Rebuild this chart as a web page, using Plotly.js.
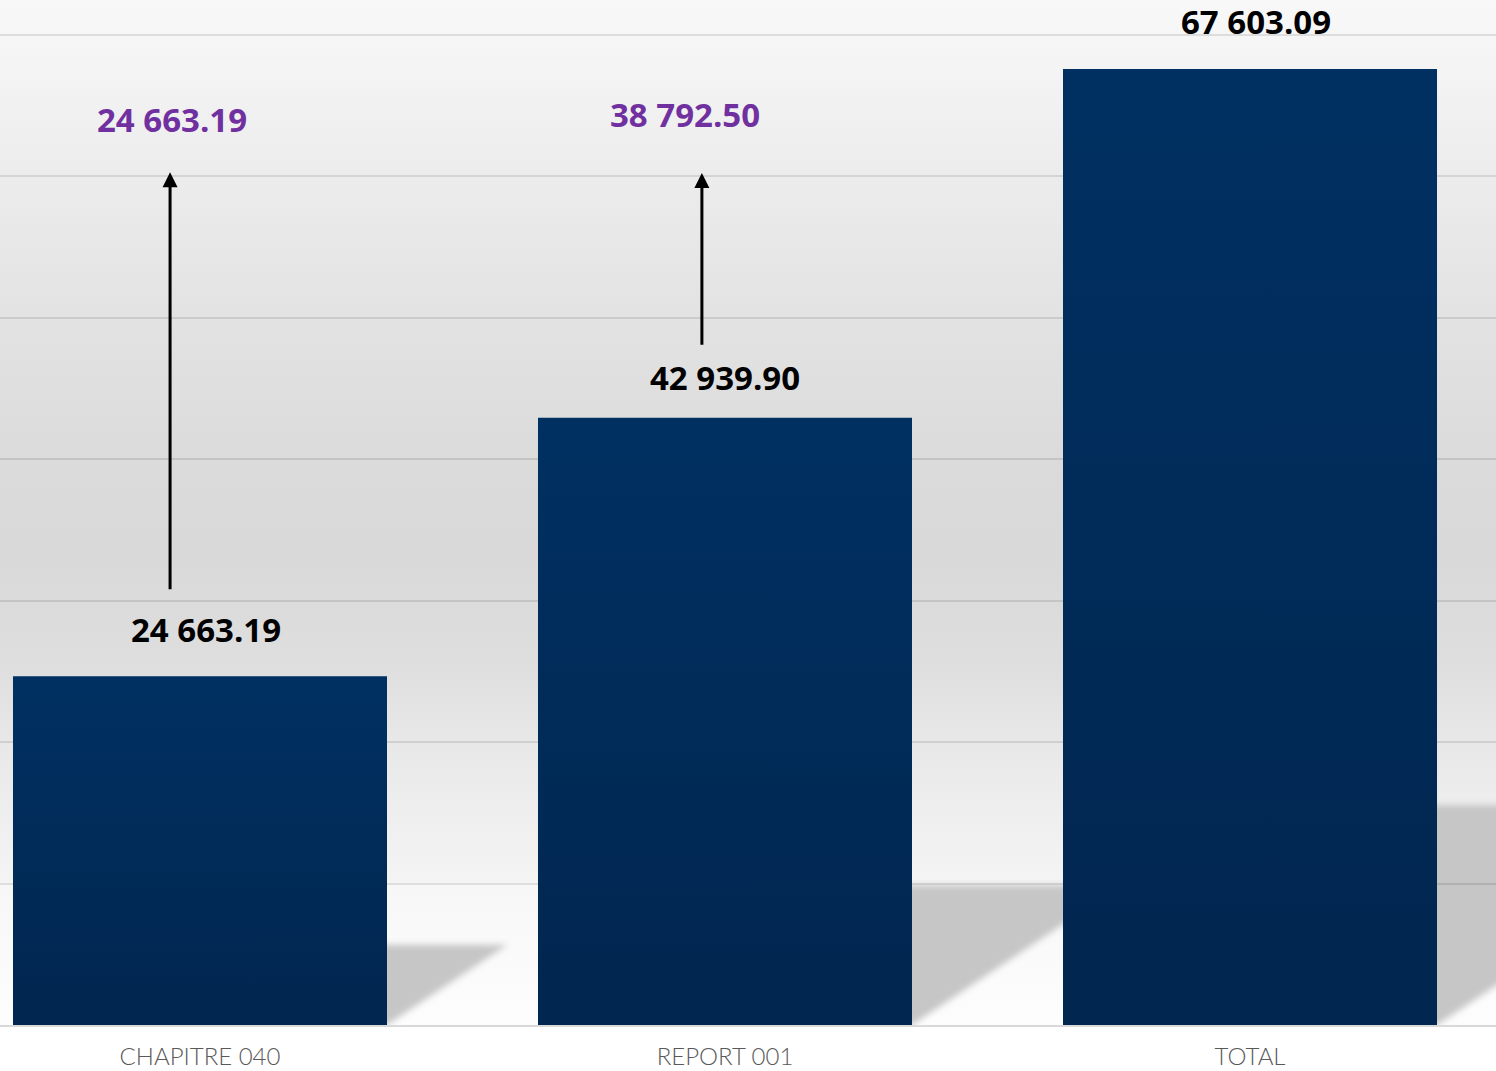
<!DOCTYPE html>
<html><head><meta charset="utf-8">
<script src="https://cdn.plot.ly/plotly-3.0.1.min.js"></script>
<style>html,body{margin:0;padding:0;background:#fff;}#chart{width:1496px;height:1071px;}</style>
</head><body><div id="chart"></div>
<script>
// ---- data ----
const categories = ['CHAPITRE 040', 'REPORT 001', 'TOTAL'];
const barValues = [24663.19, 42939.90, 67603.09];
const arrowLabels = [24663.19, 38792.50];

function fmt(v) {
  const parts = v.toFixed(2).split('.');
  return parts[0].replace(/\B(?=(\d{3})+(?!\d))/g, ' ') + '.' + parts[1];
}

const xIdx = categories.map((c, i) => i);

// ---- layout config (positions / styles) ----
const labelShift = [47, 40, 47];
const labelXShift = [6, 0, 6];
const arrowCfg = [
  {x: -0.057, tail: 30700, tip: 60300, lx: -0.053, ly: 64000},
  {x: 0.956, tail: 48000, tip: 60250, lx: 0.924, ly: 64350}
];

const annotations = [];
barValues.forEach((v, i) => {
  annotations.push({
    x: xIdx[i], y: v, xref: 'x', yref: 'y', text: fmt(v), showarrow: false,
    yanchor: 'middle', xanchor: 'center', yshift: labelShift[i], xshift: labelXShift[i],
    font: {family: 'Open Sans', size: 33, color: '#000000', weight: 700}
  });
});
arrowLabels.forEach((v, i) => {
  const a = arrowCfg[i];
  annotations.push({
    x: a.x, y: a.tip, ax: a.x, ay: a.tail, xref: 'x', yref: 'y', axref: 'x', ayref: 'y',
    text: '', showarrow: true, arrowhead: 2, arrowsize: 1, arrowwidth: 3,
    arrowcolor: '#000000', standoff: 0, startstandoff: 0
  });
  annotations.push({
    x: a.lx, y: a.ly, xref: 'x', yref: 'y', text: fmt(v), showarrow: false,
    yanchor: 'middle', xanchor: 'center',
    font: {family: 'Open Sans', size: 33, color: '#7030a0', weight: 700}
  });
});

const trace = {
  type: 'bar', x: xIdx, y: barValues, width: 0.7124,
  marker: {color: '#012b5a', line: {width: 0}},
  hoverinfo: 'none'
};

const layout = {
  width: 1496, height: 1071,
  margin: {l: 0, r: 0, t: 0, b: 46, pad: 0},
  paper_bgcolor: '#ffffff', plot_bgcolor: 'rgba(0,0,0,0)',
  showlegend: false,
  xaxis: {
    range: [-0.38095, 2.46857], tickvals: xIdx, ticktext: categories,
    showgrid: false, zeroline: false, showline: true, linecolor: '#d9d9d9', linewidth: 2,
    ticks: '', ticklabelstandoff: 9,
    tickfont: {family: 'Lato', size: 24, color: '#595959', weight: 300}
  },
  yaxis: {
    range: [0, 72475], tick0: 0, dtick: 10000, showticklabels: false,
    showgrid: true, gridcolor: 'rgba(0,0,0,0.10)', gridwidth: 2, zeroline: false
  },
  annotations: annotations
};

const gd = document.getElementById('chart');

function buildBackground() {
  const xa = gd._fullLayout.xaxis, ya = gd._fullLayout.yaxis;
  const W = Math.round(xa._length), H = Math.round(ya._length);
  const cv = document.createElement('canvas');
  cv.width = W; cv.height = H;
  const ctx = cv.getContext('2d');
  const floorY = ya.l2p(10000);
  const g = ctx.createLinearGradient(0, 0, 0, floorY);
  g.addColorStop(0.00, '#f8f8f8');
  g.addColorStop(0.04, '#f6f6f6');
  g.addColorStop(0.20, '#ececec');
  g.addColorStop(0.35, '#e3e3e3');
  g.addColorStop(0.52, '#dbdbdb');
  g.addColorStop(0.63, '#d9d9d9');
  g.addColorStop(0.75, '#dedede');
  g.addColorStop(0.84, '#e8e8e8');
  g.addColorStop(0.93, '#efefef');
  g.addColorStop(1.00, '#f4f4f4');
  ctx.fillStyle = g;
  ctx.fillRect(0, 0, W, floorY);
  const g2 = ctx.createLinearGradient(0, floorY, 0, H);
  g2.addColorStop(0, '#f7f7f7');
  g2.addColorStop(1, '#fdfdfd');
  ctx.fillStyle = g2;
  ctx.fillRect(0, floorY, W, H - floorY);
  // floor shadows, derived from bar values via the axes
  ctx.filter = 'blur(3px)';
  ctx.fillStyle = '#c6c6c6';
  const yb = ya.l2p(0);
  barValues.forEach((v, i) => {
    const xr = xa.l2p(xIdx[i] + trace.width / 2);
    const hPx = yb - ya.l2p(v);
    const s = 0.23 * hPx;
    ctx.beginPath();
    ctx.moveTo(xr - 25, yb - s);
    ctx.lineTo(xr + 1.5 * s, yb - s);
    ctx.lineTo(xr, yb);
    ctx.lineTo(xr - 25, yb + 6);
    ctx.closePath();
    ctx.fill();
  });
  ctx.filter = 'none';
  return cv.toDataURL('image/png');
}

function applyBarGradient() {
  const svg = gd.querySelector('svg.main-svg');
  if (!svg) return;
  let defs = svg.querySelector('defs');
  const ns = 'http://www.w3.org/2000/svg';
  if (!defs) { defs = document.createElementNS(ns, 'defs'); svg.insertBefore(defs, svg.firstChild); }
  if (!svg.querySelector('#barGrad')) {
    const lg = document.createElementNS(ns, 'linearGradient');
    lg.setAttribute('id', 'barGrad');
    lg.setAttribute('x1', '0'); lg.setAttribute('y1', '0');
    lg.setAttribute('x2', '0'); lg.setAttribute('y2', '1');
    [['0', '#003062'], ['1', '#01264f']].forEach(([o, c]) => {
      const st = document.createElementNS(ns, 'stop');
      st.setAttribute('offset', o); st.setAttribute('stop-color', c);
      lg.appendChild(st);
    });
    defs.appendChild(lg);
  }
  gd.querySelectorAll('.bars .point path').forEach(p => { p.style.fill = 'url(#barGrad)'; });
}

Plotly.newPlot(gd, [trace], layout, {displayModeBar: false, staticPlot: true}).then(() => {
  const src = buildBackground();
  return Plotly.relayout(gd, {images: [{
    source: src, xref: 'paper', yref: 'paper', x: 0, y: 1, sizex: 1, sizey: 1,
    xanchor: 'left', yanchor: 'top', sizing: 'stretch', layer: 'below'
  }]});
}).then(applyBarGradient);
</script>
</body></html>
